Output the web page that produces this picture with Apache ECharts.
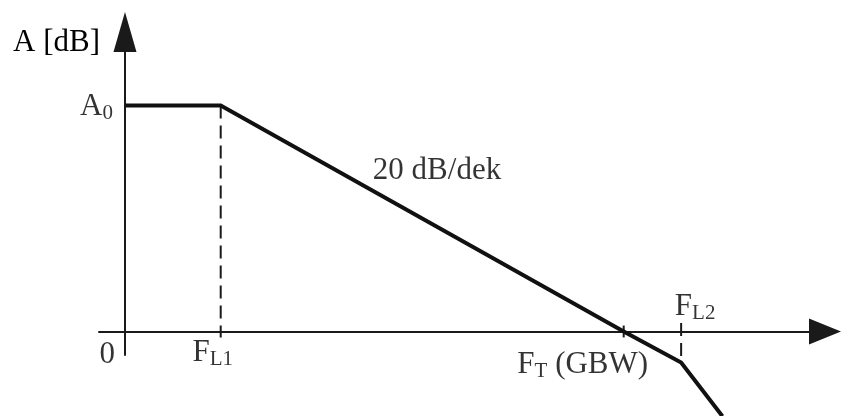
<!DOCTYPE html>
<html><head><meta charset="utf-8">
<script src="https://cdn.jsdelivr.net/npm/echarts@6/dist/echarts.min.js"></script>
<style>html,body{margin:0;padding:0;background:#fff}#c{width:842px;height:416px}</style>
</head><body><div id="c"></div>
<script>
// Break points of the asymptotic Bode plot: x = log10 frequency (decades), y = gain in dB
const logFreq = [0, 0.95, 4.95, 5.52, 5.93];
const gainDb  = [80, 80, 0, -11, -30];
const A0 = 80;
const FL1 = 0.95, FT = 4.95, FL2 = 5.52;
// Axis ranges
const xRange = [-0.258, 6.948];
const yRange = [-8.32, 106];
// Texts
const yAxisTitle = 'A [dB]';
const labelTexts = ['{m|A}{s|0}', '{m|0}', '{m|F}{s|L1}', '{m|F}{s|T}{m| (GBW)}', '{m|F}{s|L2}', '{m|20 dB/dek}'];
const labelAnchors = [[0, A0], [0, 0], [FL1, 0], [FT, 0], [FL2, 0], [3.097, 56.8]];

const serif = 'Liberation Serif';
const tickHalf = 2.1;

const labelStyles = [
  {position: 'left', distance: 12, offset: [0, 1.5]},
  {position: 'left', distance: 10, offset: [0, 23]},
  {position: 'bottom', distance: 4, offset: [-8, 0]},
  {position: 'bottom', distance: 16, offset: [-41, 0]},
  {position: 'top', distance: 8, offset: [14, 0]},
  {position: 'inside', distance: 0, offset: [0, 0]}
];

const chart = echarts.init(document.getElementById('c'), null, {renderer: 'canvas'});
const mainData = logFreq.map((x, i) => [x, gainDb[i]]);

chart.setOption({
  animation: false,
  backgroundColor: '#fff',
  grid: {left: 99, right: 17, top: 32, bottom: 61, containLabel: false},
  xAxis: {
    type: 'value', min: xRange[0], max: xRange[1],
    axisLine: {show: true, onZero: true, symbol: ['none', 'triangle'], symbolSize: [26, 32],
      lineStyle: {color: '#1a1a1a', width: 2}},
    axisTick: {show: false}, axisLabel: {show: false}, splitLine: {show: false}
  },
  yAxis: {
    type: 'value', min: yRange[0], max: yRange[1],
    name: yAxisTitle, nameLocation: 'end', nameGap: -11,
    nameTextStyle: {fontFamily: serif, fontSize: 31, color: '#000', align: 'right', verticalAlign: 'middle', padding: [0, 25, 0, 0]},
    axisLine: {show: true, onZero: true, symbol: ['none', 'triangle'], symbolSize: [23, 40],
      lineStyle: {color: '#1a1a1a', width: 2}},
    axisTick: {show: false}, axisLabel: {show: false}, splitLine: {show: false}
  },
  series: [
    {
      type: 'line', data: [[FL1, A0], [FL1, -tickHalf]], symbol: 'none', clip: false, z: 3,
      lineStyle: {color: '#1a1a1a', width: 2, type: [13, 7]}
    },
    {
      type: 'line', data: [[FL2, 3], [FL2, gainDb[3]]], symbol: 'none', clip: false, z: 3,
      lineStyle: {color: '#1a1a1a', width: 2, type: [13, 7]}
    },
    {
      type: 'line', data: [[FT, tickHalf], [FT, -tickHalf]], symbol: 'none', clip: false, z: 3,
      lineStyle: {color: '#1a1a1a', width: 2}
    },
    {
      type: 'line', data: mainData, symbol: 'none', clip: false, z: 5,
      lineStyle: {color: '#111', width: 4, join: 'miter'}
    },
    {
      type: 'scatter', symbolSize: 0, clip: false, z: 6,
      data: labelAnchors.map((p, i) => ({
        value: p,
        label: Object.assign({show: true, formatter: labelTexts[i]}, labelStyles[i])
      })),
      label: {
        show: true,
        rich: {
          m: {fontFamily: serif, fontSize: 31, color: '#000', lineHeight: 34},
          s: {fontFamily: serif, fontSize: 21, color: '#000', lineHeight: 17, verticalAlign: 'bottom'}
        }
      }
    }
  ]
});
</script>
</body></html>
